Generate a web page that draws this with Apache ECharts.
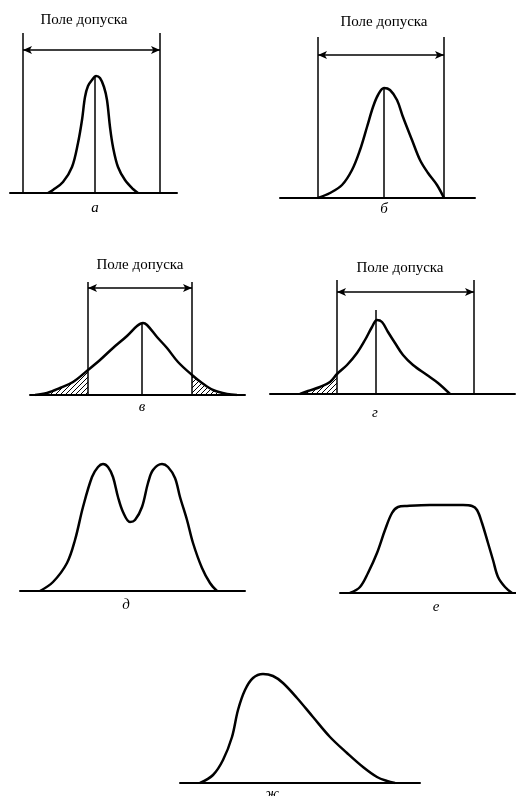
<!DOCTYPE html>
<html>
<head>
<meta charset="utf-8">
<script src="https://cdn.jsdelivr.net/npm/echarts@6/dist/echarts.min.js"></script>
<style>
html, body { margin: 0; background: #fff; }
#chart { width: 516px; height: 796px; }
</style>
</head>
<body>
<div id="chart"></div>
<script>
// кривые распределения: [положение, высота над осью]
const curveA = [[38,0],[43,3],[53,11],[62,26],[68,50],[72,73],[75,96],[78,107],[82,113],[86,117],[90,115],[94,106],[97,93],[100,66],[103,46],[108,26],[115,13],[123,4],[128,0]]
const curveB = [[38,0],[50,5],[62,13],[72,28],[80,48],[87,71],[93,91],[98,103],[104,110],[110,108],[117,98],[123,81],[132,58],[140,38],[148,25],[157,13],[164,0]]
const curveV = [[5,0],[17,2],[30,7],[43,13],[58,25],[70,35],[83,47],[97,59],[107,69],[113,72],[117,70],[127,58],[137,47],[148,33],[162,20],[172,12],[183,5],[197,1],[207,0]]
const curveG = [[30,0],[38,3],[50,7],[60,12],[67,20],[77,29],[87,41],[95,54],[102,67],[107,74],[112,72],[118,62],[125,51],[133,39],[143,29],[157,19],[168,11],[180,0]]
const curveD = [[20,0],[33,9],[47,28],[55,51],[63,84],[72,114],[78,124],[83,127],[88,124],[93,114],[98,94],[103,79],[110,69],[115,71],[122,84],[128,108],[133,121],[142,127],[148,124],[155,113],[160,94],[167,71],[173,48],[182,23],[190,8],[197,0]]
const curveE = [[10,0],[20,6],[28,20],[37,40],[45,63],[52,80],[58,86],[67,87],[90,88],[123,88],[132,87],[137,83],[142,70],[148,50],[153,33],[158,16],[165,6],[172,0]]
const curveZh = [[20,0],[33,8],[43,23],[52,46],[58,73],[65,93],[73,105],[83,109],[93,107],[103,100],[117,85],[133,66],[150,46],[167,30],[183,16],[197,6],[207,2],[215,0]]

// границы поля допуска и центр группирования
const tolA = [13, 150], tolB = [38, 164], tolV = [58, 162], tolG = [67, 204]
const centerA = [85, 117], centerB = [104, 110], centerV = [112, 72], centerG = [106, 84]
const arrowY = { a: 143, b: 143, v: 107, g: 102 }

const titleText = 'Поле допуска'
const letters = ['а', 'б', 'в', 'г', 'д', 'е', 'ж']

// раскладка панелей (пиксели)
const layout = [
  { left: 10, top: 33, width: 167, height: 160 },
  { left: 280, top: 37, width: 195, height: 161 },
  { left: 30, top: 282, width: 215, height: 113 },
  { left: 270, top: 280, width: 245, height: 114 },
  { left: 20, top: 455, width: 225, height: 136 },
  { left: 340, top: 500, width: 176, height: 93 },
  { left: 180, top: 665, width: 240, height: 118 }
]
const titlePos = [[84, 20], [384, 22], [140, 265], [400, 268]]
const letterPos = [[95, 208], [384, 209], [142, 407], [375, 413], [126, 605], [436, 607], [272, 794]]

// штриховка
const hatch = document.createElement('canvas')
hatch.width = 5; hatch.height = 5
const hc = hatch.getContext('2d')
hc.strokeStyle = '#000'; hc.lineWidth = 1
hc.beginPath(); hc.moveTo(-1, 6); hc.lineTo(6, -1); hc.stroke()

const myChart = echarts.init(document.getElementById('chart'))

const grids = layout.map(g => ({ left: g.left, top: g.top, width: g.width, height: g.height }))
const xAxes = layout.map((g, i) => ({
  type: 'value', gridIndex: i, min: 0, max: g.width,
  axisLine: { show: true, onZero: false, lineStyle: { color: '#000', width: 2 } },
  axisTick: { show: false }, axisLabel: { show: false }, splitLine: { show: false }
}))
const yAxes = layout.map((g, i) => ({ type: 'value', gridIndex: i, min: 0, max: g.height, show: false }))

function vline(x, y1, y2, w) {
  return [{ coord: [x, y1], lineStyle: { width: w } }, { coord: [x, y2] }]
}

function curveSeries(i, data, tol, center, ay) {
  const h = layout[i].height
  const marks = []
  if (tol) {
    marks.push(vline(tol[0], 0, h, 1.5), vline(tol[1], 0, h, 1.5))
    marks.push([{ coord: [tol[0], ay], symbol: 'arrow', lineStyle: { width: 1.5 } }, { coord: [tol[1], ay], symbol: 'arrow' }])
  }
  if (center) marks.push(vline(center[0], 0, center[1], 1.5))
  return {
    type: 'line', xAxisIndex: i, yAxisIndex: i, data, smooth: 0.35,
    showSymbol: false, silent: true,
    lineStyle: { color: '#000', width: 2.5 },
    markLine: marks.length ? {
      silent: true, symbol: 'none', symbolSize: [6, 9], label: { show: false },
      lineStyle: { color: '#000', type: 'solid' }, data: marks
    } : undefined
  }
}

function tailSeries(i, data) {
  return {
    type: 'line', xAxisIndex: i, yAxisIndex: i, data, smooth: 0.35,
    showSymbol: false, silent: true,
    lineStyle: { width: 0 },
    areaStyle: { color: { image: hatch, repeat: 'repeat' }, opacity: 1 }
  }
}

const series = [
  curveSeries(0, curveA, tolA, centerA, arrowY.a),
  curveSeries(1, curveB, tolB, centerB, arrowY.b),
  tailSeries(2, curveV.filter(p => p[0] <= tolV[0])),
  tailSeries(2, curveV.filter(p => p[0] >= tolV[1])),
  curveSeries(2, curveV, tolV, centerV, arrowY.v),
  tailSeries(3, curveG.filter(p => p[0] <= tolG[0])),
  curveSeries(3, curveG, tolG, centerG, arrowY.g),
  curveSeries(4, curveD),
  curveSeries(5, curveE),
  curveSeries(6, curveZh)
]

const graphic = []
titlePos.forEach(p => graphic.push({
  type: 'text', x: p[0], y: p[1],
  style: { text: titleText, fill: '#000', font: '15px "Liberation Serif", serif', align: 'center', verticalAlign: 'middle' }
}))
letterPos.forEach((p, i) => graphic.push({
  type: 'text', x: p[0], y: p[1],
  style: { text: letters[i], fill: '#000', font: 'italic 15px "Liberation Serif", serif', align: 'center', verticalAlign: 'middle' }
}))

myChart.setOption({
  animation: false,
  backgroundColor: '#fff',
  grid: grids,
  xAxis: xAxes,
  yAxis: yAxes,
  series,
  graphic
})
</script>
</body>
</html>
